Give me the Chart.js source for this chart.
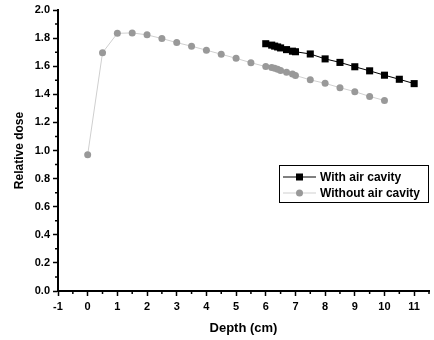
<!DOCTYPE html>
<html lang="en">
  <head>
    <meta charset="utf-8"/>
    <script src="https://cdn.jsdelivr.net/npm/chart.js@4/dist/chart.umd.min.js"></script>
    <style>
      html, body { margin: 0; padding: 0; background: #fff; }
      #box { width: 434px; height: 340px; }
    </style>
  </head>
  <body>
    <div id="box"><canvas id="plot"></canvas></div>

<script>
// depth (cm) and relative dose
const withDepth = [6, 6.2, 6.3, 6.4, 6.5, 6.7, 6.9, 7, 7.5, 8, 8.5, 9, 9.5, 10, 10.5, 11];
const withDose  = [1.76, 1.75, 1.743, 1.737, 1.73, 1.718, 1.707, 1.703, 1.687, 1.652, 1.627, 1.596, 1.567, 1.536, 1.507, 1.476];

const withoutDepth = [0, 0.5, 1, 1.5, 2, 2.5, 3, 3.5, 4, 4.5, 5, 5.5, 6, 6.2, 6.3, 6.4, 6.5, 6.7, 6.9, 7, 7.5, 8, 8.5, 9, 9.5, 10];
const withoutDose  = [0.97, 1.696, 1.834, 1.837, 1.823, 1.797, 1.768, 1.742, 1.714, 1.685, 1.656, 1.625, 1.597, 1.59, 1.585, 1.578, 1.569, 1.557, 1.544, 1.534, 1.503, 1.478, 1.447, 1.419, 1.385, 1.356];

const seriesNames = ['With air cavity', 'Without air cavity'];
const xTitle = 'Depth (cm)';
const yTitle = 'Relative dose';

function pairs(xs, ys) {
    return xs.map((x, i) => ({ x: x, y: ys[i] }));
}

const FONT = '"Liberation Sans", Arial, sans-serif';

// short outward ticks for the minor steps
const minorTicks = {
    id: 'minorTicks',
    afterDraw(chart) {
        const ctx = chart.ctx;
        const xs = chart.scales.x, ys = chart.scales.y;
        ctx.save();
        ctx.strokeStyle = '#000';
        ctx.lineWidth = 1.5;
        ctx.beginPath();
        xs.ticks.forEach((t) => {
            if (Number.isInteger(t.value)) return;
            const px = xs.getPixelForValue(t.value);
            ctx.moveTo(px, xs.top);
            ctx.lineTo(px, xs.top + 3);
        });
        ys.ticks.forEach((t) => {
            if (Math.round(t.value * 10) % 2 === 0) return;
            const py = ys.getPixelForValue(t.value);
            ctx.moveTo(ys.right, py);
            ctx.lineTo(ys.right - 3, py);
        });
        ctx.stroke();
        ctx.restore();
    }
};

// boxed legend sitting inside the plot
const boxLegend = {
    id: 'boxLegend',
    afterDraw(chart) {
        const ctx = chart.ctx;
        const left = 279, top = 165, w = 149, h = 37;
        ctx.save();
        ctx.strokeStyle = '#000';
        ctx.lineWidth = 1;
        ctx.strokeRect(left + 0.5, top + 0.5, w, h);
        ctx.font = 'bold 12px ' + FONT;
        ctx.textBaseline = 'middle';
        chart.data.datasets.forEach((ds, i) => {
            const y = top + 12 + i * 16;
            ctx.strokeStyle = ds.borderColor;
            ctx.lineWidth = 1;
            ctx.beginPath();
            ctx.moveTo(left + 4, y);
            ctx.lineTo(left + 37, y);
            ctx.stroke();
            ctx.fillStyle = ds.pointBackgroundColor;
            if (ds.pointStyle === 'rect') {
                ctx.fillRect(left + 17, y - 3.5, 7, 7);
            } else {
                ctx.beginPath();
                ctx.arc(left + 20.5, y, 3.5, 0, Math.PI * 2);
                ctx.fill();
            }
            ctx.fillStyle = '#000';
            ctx.fillText(ds.label, left + 41, y + 0.5);
        });
        ctx.restore();
    }
};

const ctx = document.getElementById('plot').getContext('2d');
const chart = new Chart(ctx, {
    type: 'scatter',
    data: {
        datasets: [
            {
                label: seriesNames[0],
                data: pairs(withDepth, withDose),
                showLine: true,
                borderColor: '#000',
                borderWidth: 1,
                pointStyle: 'rect',
                pointRadius: 5,
                pointBackgroundColor: '#000',
                pointBorderWidth: 0,
                order: 1
            },
            {
                label: seriesNames[1],
                data: pairs(withoutDepth, withoutDose),
                showLine: true,
                borderColor: '#cfcfcf',
                borderWidth: 1,
                pointStyle: 'circle',
                pointRadius: 3.5,
                pointBackgroundColor: '#999',
                pointBorderWidth: 0,
                order: 2
            }
        ]
    },
    options: {
        responsive: true,
        maintainAspectRatio: false,
        animation: false,
        layout: { padding: { top: 10, right: 1, left: 12, bottom: 0 } },
        plugins: {
            legend: { display: false },
            tooltip: { enabled: false }
        },
        scales: {
            x: {
                type: 'linear',
                min: -1,
                max: 11.5,
                border: { color: '#000', width: 2 },
                grid: {
                    drawOnChartArea: false,
                    tickLength: 5,
                    tickWidth: 1.5,
                    tickColor: (c) => Number.isInteger(c.tick.value) ? '#000' : 'rgba(0,0,0,0)'
                },
                ticks: {
                    stepSize: 0.5,
                    autoSkip: false,
                    maxRotation: 0,
                    padding: 4,
                    color: '#000',
                    font: { family: FONT, size: 11, weight: 'bold' },
                    callback: (v) => Number.isInteger(v) ? String(v) : ''
                },
                title: {
                    display: true,
                    text: xTitle,
                    color: '#000',
                    padding: { top: 6, bottom: 4 },
                    font: { family: FONT, size: 13, weight: 'bold' }
                },
                afterFit: (s) => { s.height = 49; }
            },
            y: {
                type: 'linear',
                min: 0,
                max: 2,
                border: { color: '#000', width: 2 },
                grid: {
                    drawOnChartArea: false,
                    tickLength: 5,
                    tickWidth: 1.5,
                    tickColor: (c) => Math.round(c.tick.value * 10) % 2 === 0 ? '#000' : 'rgba(0,0,0,0)'
                },
                ticks: {
                    stepSize: 0.1,
                    autoSkip: false,
                    padding: 3,
                    color: '#000',
                    font: { family: FONT, size: 11, weight: 'bold' },
                    callback: (v) => Math.round(v * 10) % 2 === 0 ? v.toFixed(1) : ''
                },
                title: {
                    display: true,
                    text: yTitle,
                    color: '#000',
                    padding: { top: 0, bottom: 4 },
                    font: { family: FONT, size: 12, weight: 'bold' }
                },
                afterFit: (s) => { s.width = 46; }
            }
        }
    },
    plugins: [minorTicks, boxLegend]
});
</script>
  </body>
</html>
